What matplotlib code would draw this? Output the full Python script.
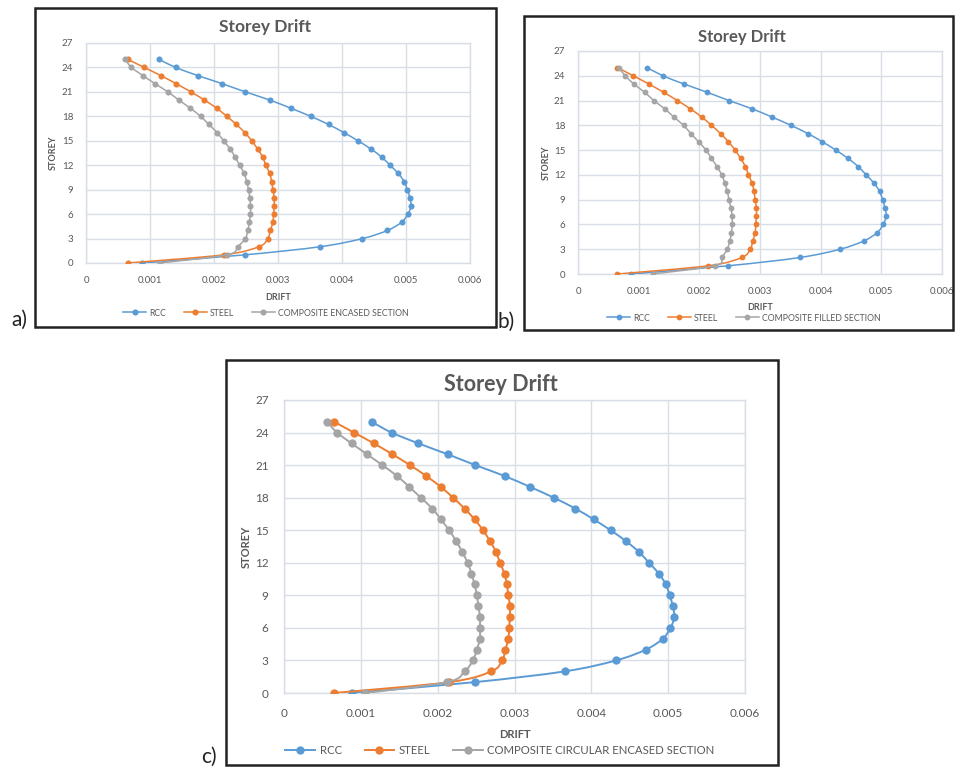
import matplotlib
matplotlib.use("Agg")
import matplotlib.pyplot as plt
from matplotlib.patches import Rectangle, PathPatch
from matplotlib.lines import Line2D
from matplotlib.path import Path

plt.rcParams['font.family'] = ['Lato', 'DejaVu Sans']

# ---------------- data ----------------
storeys = list(range(0, 26))

rcc_drift = [0.00088, 0.00248, 0.00366, 0.00432, 0.00471, 0.00493, 0.00503, 0.00508,
             0.00506, 0.00502, 0.00497, 0.00488, 0.00475, 0.00462, 0.00445, 0.00425,
             0.00403, 0.00379, 0.00351, 0.00320, 0.00287, 0.00249, 0.00213, 0.00175,
             0.00140, 0.00114]
steel_drift = [0.00065, 0.00215, 0.00270, 0.00284, 0.00288, 0.00292, 0.00293, 0.00294,
               0.00294, 0.00292, 0.00290, 0.00287, 0.00281, 0.00276, 0.00268, 0.00259,
               0.00248, 0.00235, 0.00220, 0.00204, 0.00185, 0.00164, 0.00141, 0.00117,
               0.00091, 0.00065]
comp_encased = [0.00115, 0.00220, 0.00237, 0.00249, 0.00253, 0.00255, 0.00257, 0.00257,
                0.00256, 0.00254, 0.00251, 0.00247, 0.00240, 0.00233, 0.00225, 0.00215,
                0.00205, 0.00192, 0.00179, 0.00163, 0.00145, 0.00128, 0.00108, 0.00089,
                0.00071, 0.00061]
comp_filled = [0.00123, 0.00226, 0.00237, 0.00246, 0.00250, 0.00253, 0.00254, 0.00254,
               0.00252, 0.00249, 0.00246, 0.00242, 0.00237, 0.00229, 0.00220, 0.00211,
               0.00199, 0.00186, 0.00174, 0.00158, 0.00143, 0.00125, 0.00110, 0.00092,
               0.00078, 0.00067]
comp_circular = [0.00106, 0.00212, 0.00235, 0.00246, 0.00251, 0.00255, 0.00255, 0.00255,
                 0.00253, 0.00251, 0.00248, 0.00244, 0.00239, 0.00232, 0.00224, 0.00215,
                 0.00204, 0.00193, 0.00178, 0.00163, 0.00147, 0.00128, 0.00108, 0.00088,
                 0.00069, 0.00056]

x_ticks = [0, 0.001, 0.002, 0.003, 0.004, 0.005, 0.006]
x_tick_labels = ["0", "0.001", "0.002", "0.003", "0.004", "0.005", "0.006"]
y_ticks = [0, 3, 6, 9, 12, 15, 18, 21, 24, 27]

series_names = ["RCC", "STEEL"]
comp_names = ["COMPOSITE ENCASED SECTION", "COMPOSITE FILLED SECTION",
              "COMPOSITE CIRCULAR ENCASED SECTION"]
panel_labels = ["a)", "b)", "c)"]

colors = ["#5B9BD5", "#ED7D31", "#A5A5A5"]
TXT = "#595959"
GRID = "#D9DEE6"

W, H = 956, 767
fig = plt.figure(figsize=(W / 100, H / 100), dpi=100)
fig.patch.set_facecolor("white")


def fx(x):
    return x / W


def fy(y):
    return 1 - y / H


def box(x0, y0, x1, y1):
    fig.add_artist(Rectangle((fx(x0), fy(y1)), fx(x1) - fx(x0), fy(y0) - fy(y1),
                             transform=fig.transFigure, fill=False,
                             edgecolor="#222222", linewidth=1.8))


def smooth_path(xs, ys):
    """Excel-style smoothed line: cubic Bezier segments through the data points."""
    pts = list(zip(xs, ys))
    n = len(pts)
    verts = [pts[0]]
    codes = [Path.MOVETO]
    for k in range(n - 1):
        p0 = pts[k - 1] if k > 0 else pts[k]
        p1 = pts[k]
        p2 = pts[k + 1]
        p3 = pts[k + 2] if k + 2 < n else pts[k + 1]
        c1 = (p1[0] + (p2[0] - p0[0]) / 6, p1[1] + (p2[1] - p0[1]) / 6)
        c2 = (p2[0] - (p3[0] - p1[0]) / 6, p2[1] - (p3[1] - p1[1]) / 6)
        verts += [c1, c2, p2]
        codes += [Path.CURVE4] * 3
    return Path(verts, codes)


panels = [
    dict(box=(35, 8, 496, 327), ax=(86, 43, 470, 263), comp=comp_encased,
         title=(265, 27, 12.5), tick=7, lab=6.5, leg=(266, 313, 6.3), ms=4.4,
         drift_y=297, storey_x=53, plab=(19, 320), name=comp_names[0], lw=1.1),
    dict(box=(524, 16, 953, 330), ax=(578, 51, 942, 274), comp=comp_filled,
         title=(742, 37, 12), tick=7, lab=6.5, leg=(744, 318, 6.3), ms=4.2,
         drift_y=307, storey_x=546, plab=(506, 322), name=comp_names[1], lw=1.1),
    dict(box=(226, 360, 778, 765), ax=(284, 400, 745, 693), comp=comp_circular,
         title=(501, 384, 15.5), tick=8.5, lab=8, leg=(500, 750, 8.2), ms=6.0,
         drift_y=735, storey_x=246, plab=(209, 757), name=comp_names[2], lw=1.4),
]

for i, p in enumerate(panels):
    box(*p["box"])
    x0, y0, x1, y1 = p["ax"]
    ax = fig.add_axes([fx(x0), fy(y1), fx(x1) - fx(x0), fy(y0) - fy(y1)])
    all_series = [(rcc_drift, series_names[0]), (steel_drift, series_names[1]),
                  (p["comp"], p["name"])]
    handles = []
    for j, ((vals, nm), c) in enumerate(zip(all_series, colors)):
        patch = PathPatch(smooth_path(vals, storeys), fill=False, edgecolor=c,
                          linewidth=p["lw"], zorder=3 + j * 0.1,
                          transform=ax.transData)
        ax.add_patch(patch)
        ax.plot(vals, storeys, linestyle="none", marker="o", color=c,
                markersize=p["ms"], markeredgewidth=0, zorder=3.05 + j * 0.1)
        handles.append(Line2D([], [], color=c, linewidth=p["lw"], marker="o",
                              markersize=p["ms"], markeredgewidth=0, label=nm))
    ax.set_xlim(0, 0.006)
    ax.set_ylim(0, 27)
    ax.set_xticks(x_ticks)
    ax.set_xticklabels(x_tick_labels)
    ax.set_yticks(y_ticks)
    ax.tick_params(length=0, labelsize=p["tick"], labelcolor=TXT, pad=p["tick"] * 1.3)
    ax.grid(True, color=GRID, linewidth=1.0, zorder=0)
    ax.set_axisbelow(True)
    for s in ax.spines.values():
        s.set_color(GRID)
        s.set_linewidth(1.0)
    ax.set_facecolor("white")

    tx, ty, ts = p["title"]
    fig.text(fx(tx), fy(ty), "Storey Drift", ha="center", va="center",
             fontsize=ts, fontweight="bold", color=TXT)
    fig.text(fx((x0 + x1) / 2), fy(p["drift_y"]), "DRIFT", ha="center", va="center",
             fontsize=p["lab"], fontweight="bold", color=TXT)
    fig.text(fx(p["storey_x"]), fy((y0 + y1) / 2), "STOREY", ha="center", va="center",
             rotation=90, fontsize=p["lab"], fontweight="bold", color=TXT)
    lx, ly, ls = p["leg"]
    fig.legend(handles=handles, loc="center", bbox_to_anchor=(fx(lx), fy(ly)),
               ncol=3, frameon=False, fontsize=ls, labelcolor=TXT,
               handlelength=2.6, handletextpad=0.4, columnspacing=2.0,
               borderaxespad=0, borderpad=0)
    px, py = p["plab"]
    fig.text(fx(px), fy(py), panel_labels[i], ha="center", va="center",
             fontsize=15, color="#222222")

fig.savefig("out.png", dpi=100, facecolor="white")
